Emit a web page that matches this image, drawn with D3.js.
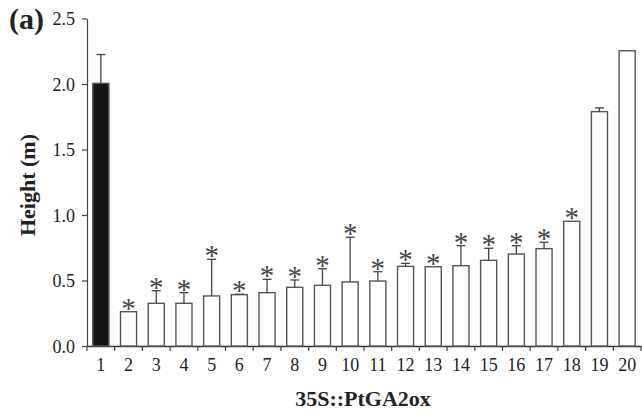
<!DOCTYPE html>
<html><head><meta charset="utf-8">
<script src="https://cdn.jsdelivr.net/npm/d3@7"></script>
<style>
html,body{margin:0;padding:0;background:#fff;}
svg{display:block;font-family:"Liberation Serif","Times New Roman",serif;}
</style></head>
<body><svg id="c" width="642" height="417"></svg>
<script>
const categories = ["1","2","3","4","5","6","7","8","9","10","11","12","13","14","15","16","17","18","19","20"];
const heights = [2.005,0.262,0.326,0.326,0.382,0.392,0.407,0.448,0.463,0.489,0.496,0.608,0.605,0.613,0.654,0.702,0.743,0.952,1.789,2.254];
const errorTops = [2.225,null,0.422,0.407,0.662,0.395,0.509,0.504,0.590,0.830,0.567,0.631,null,0.766,0.746,0.766,0.792,null,1.818,null];
const significant = [false,true,true,true,true,true,true,true,true,true,true,true,true,true,true,true,true,true,false,false];
const yTicks = [0.0,0.5,1.0,1.5,2.0,2.5];

const svg = d3.select("#c");
const x0 = 87, x1 = 641, yB = 346, yT = 18.5;
const x = d3.scaleBand().domain(categories).range([x0, x1]).paddingInner(0.42).paddingOuter(0.21);
const y = d3.scaleLinear().domain([0, 2.5]).range([yB, yT]);
const ink = "#222";
const FF = "Liberation Serif";

// y axis
const yAx = svg.append("g").attr("transform", `translate(${x0},0)`)
  .call(d3.axisLeft(y).tickValues(yTicks).tickFormat(d3.format(".1f")).tickSize(5).tickSizeOuter(0));
yAx.select(".domain").attr("stroke", "#444").attr("stroke-width", 1.2);
yAx.selectAll(".tick line").attr("stroke", "#444").attr("stroke-width", 1.2);
yAx.selectAll(".tick text").attr("font-family", FF).attr("font-size", 18).attr("fill", ink).attr("x", -12).attr("dy", "0.34em");

// x axis
const xAx = svg.append("g").attr("transform", `translate(0,${yB})`)
  .call(d3.axisBottom(x).tickSize(0).tickSizeOuter(0));
xAx.select(".domain").attr("stroke", "#333").attr("stroke-width", 1.5);
xAx.selectAll(".tick text").attr("font-family", FF).attr("font-size", 18).attr("fill", ink).attr("dy", 0).attr("y", 25);
// boundary ticks between bands
const step = x.step();
const bounds = categories.map(c => x(c) - x.paddingOuter() * step).concat([x1]);
xAx.selectAll("line.bt").data(bounds).enter().append("line").attr("class", "bt")
  .attr("x1", d => d).attr("x2", d => d).attr("y1", 0).attr("y2", 5)
  .attr("stroke", "#444").attr("stroke-width", 1.2);

// bars
const data = categories.map((c, i) => ({c, v: heights[i], e: errorTops[i], s: significant[i], i}));
const cap = 9;
svg.append("g").selectAll("rect").data(data).enter().append("rect")
  .attr("x", d => x(d.c)).attr("width", x.bandwidth())
  .attr("y", d => y(d.v)).attr("height", d => y(0) - y(d.v))
  .attr("fill", d => d.i === 0 ? "#161616" : "#fff")
  .attr("stroke", "#555").attr("stroke-width", 1.4);

// error bars
const eb = svg.append("g").selectAll("g").data(data.filter(d => d.e !== null)).enter().append("g");
eb.append("line").attr("x1", d => x(d.c) + x.bandwidth() / 2).attr("x2", d => x(d.c) + x.bandwidth() / 2)
  .attr("y1", d => y(d.v)).attr("y2", d => y(d.e)).attr("stroke", "#444").attr("stroke-width", 1.3);
eb.append("line").attr("x1", d => x(d.c) + x.bandwidth() / 2 - cap / 2).attr("x2", d => x(d.c) + x.bandwidth() / 2 + cap / 2)
  .attr("y1", d => y(d.e)).attr("y2", d => y(d.e)).attr("stroke", "#444").attr("stroke-width", 1.3);

// asterisks
svg.append("g").selectAll("text").data(data.filter(d => d.s)).enter().append("text")
  .attr("x", d => x(d.c) + x.bandwidth() / 2)
  .attr("y", d => y(d.e !== null ? Math.max(d.e, d.v) : d.v) + 6)
  .attr("text-anchor", "middle").attr("font-family", FF).attr("font-size", 29)
  .attr("fill", "#444").text("*");

// titles
svg.append("text").attr("x", 363).attr("y", 406).attr("text-anchor", "middle")
  .attr("font-family", FF).attr("font-weight", "bold").attr("font-size", 22).attr("fill", ink)
  .text("35S::PtGA2ox");
svg.append("text").attr("transform", "translate(35,185) rotate(-90)").attr("text-anchor", "middle")
  .attr("font-family", FF).attr("font-weight", "bold").attr("font-size", 22).attr("fill", ink)
  .text("Height (m)");
svg.append("text").attr("x", 9).attr("y", 29)
  .attr("font-family", FF).attr("font-weight", "bold").attr("font-size", 30).attr("fill", ink)
  .text("(a)");
</script></body></html>
